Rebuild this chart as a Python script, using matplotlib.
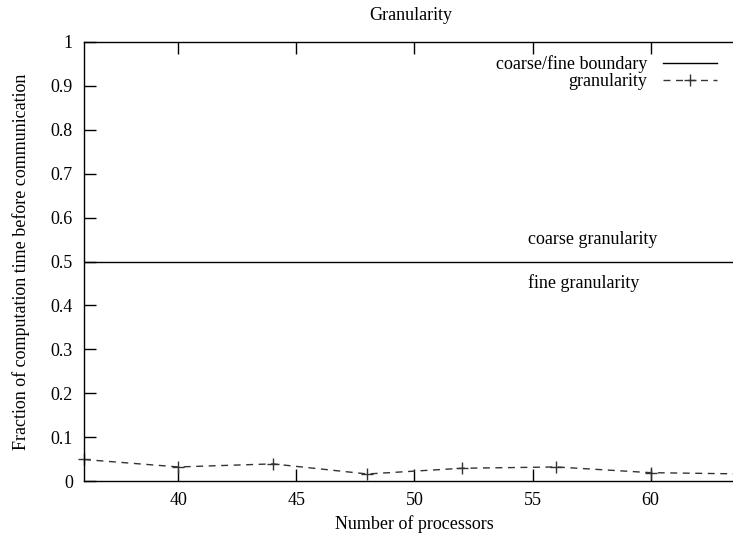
import matplotlib
matplotlib.use("Agg")
import matplotlib.pyplot as plt

# processors vs fraction of computation time before communication
processors = [36, 40, 44, 48, 52, 56, 60, 64]
granularity = [0.049, 0.032, 0.039, 0.016, 0.029, 0.032, 0.019, 0.016]
boundary = 0.5

x_ticks = [40, 45, 50, 55, 60]
y_ticks = [0, 0.1, 0.2, 0.3, 0.4, 0.5, 0.6, 0.7, 0.8, 0.9, 1]
y_tick_labels = ["0", "0.1", "0.2", "0.3", "0.4", "0.5", "0.6", "0.7", "0.8", "0.9", "1"]

plt.rcParams["font.family"] = ["Liberation Serif", "DejaVu Serif"]
plt.rcParams["font.size"] = 13

fig = plt.figure(figsize=(7.33, 5.38), dpi=100)
# axes run off the right edge, like the cropped original
ax = fig.add_axes([84 / 733, 57 / 538, 661 / 733, 439 / 538])

ax.axhline(boundary, color="black", lw=1.0, label="coarse/fine boundary")
ax.plot(processors, granularity, color="#333333", lw=1.0, dashes=(5, 4),
        marker="+", markersize=9, markeredgewidth=1.0, label="granularity",
        clip_on=False)

ax.text(54.8, 0.55, "coarse granularity", ha="left", va="center")
ax.text(54.8, 0.45, "fine granularity", ha="left", va="center")

ax.set_xlim(36, 64)
ax.set_ylim(0, 1)
ax.set_xticks(x_ticks)
ax.set_yticks(y_ticks)
ax.set_yticklabels(y_tick_labels)
ax.tick_params(direction="in", length=8.5, width=1.0, top=True, right=True, pad=8)
for s in ax.spines.values():
    s.set_linewidth(1.0)

ax.set_xlabel("Number of processors", labelpad=4)
ax.set_ylabel("Fraction of computation time before communication", labelpad=15)
fig.text(0.56, 1 - 15 / 538, "Granularity", ha="center", va="center")

leg = ax.legend(loc="upper right", bbox_to_anchor=(717 / 733, 1 - 55 / 538),
                bbox_transform=fig.transFigure, frameon=False, markerfirst=False,
                handlelength=3.0, labelspacing=0.0, handletextpad=0.85,
                borderpad=0, borderaxespad=0)
for t in leg.get_texts():
    t.set_ha("right")

fig.savefig("out.png", dpi=100)
